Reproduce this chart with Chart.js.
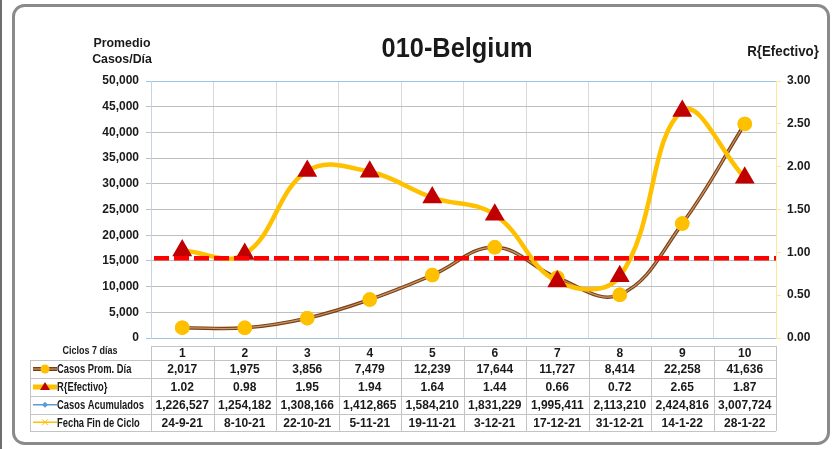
<!DOCTYPE html>
<html>
<head>
<meta charset="utf-8">
<script src="https://cdn.jsdelivr.net/npm/chart.js@4"></script>
<style>
  body { margin: 0; background: #fff; }
  canvas { display: block; }
</style>
</head>
<body>
<canvas id="chart" width="832" height="449"></canvas>
<script>

// Data
var ciclos = ['1', '2', '3', '4', '5', '6', '7', '8', '9', '10'];
var casosProm = [2017, 1975, 3856, 7479, 12239, 17644, 11727, 8414, 22258, 41636];
var rEfectivo = [1.02, 0.98, 1.95, 1.94, 1.64, 1.44, 0.66, 0.72, 2.65, 1.87];
var casosAcum = [1226527, 1254182, 1308166, 1412865, 1584210, 1831229, 1995411, 2113210, 2424816, 3007724];
var fechaFin = ['24-9-21', '8-10-21', '22-10-21', '5-11-21', '19-11-21', '3-12-21', '17-12-21', '31-12-21', '14-1-22', '28-1-22'];
var rowLabels = ['Casos Prom. Día', 'R{Efectivo}', 'Casos Acumulados', 'Fecha Fin de Ciclo'];
var umbralR = 0.93; // red dashed reference line, on the R axis

var FONT = '"Liberation Sans", Arial, sans-serif';
var TXT = '#1a1a1a';

function fmt(n) {
  return n.toLocaleString('en-US');
}

// Text squeezed horizontally (no narrow font installed)
function fillNarrow(ctx, text, x, y, sx) {
  ctx.save();
  ctx.translate(x, y);
  ctx.scale(sx, 1);
  ctx.fillText(text, 0, 0);
  ctx.restore();
}

// Frame, dashed line, titles and the data table
var decor = {
  id: 'decor',
  beforeDraw: function (chart) {
    var ctx = chart.ctx;
    ctx.save();
    ctx.fillStyle = '#fff';
    ctx.fillRect(0, 0, chart.width, chart.height);
    // left edge of the neighbouring frame
    ctx.fillStyle = '#6e6e6e';
    ctx.fillRect(0, 0, 2, chart.height);
    // rounded frame
    ctx.strokeStyle = '#8a8a8a';
    ctx.lineWidth = 3;
    ctx.beginPath();
    ctx.roundRect(13.5, 5.5, 815, 438, 11);
    ctx.stroke();
    ctx.restore();
  },
  afterDatasetDraw: function (chart, args) {
    // lighter core on the brown line, like the Excel style
    if (args.index !== 1) return;
    var ctx = chart.ctx, meta = args.meta;
    ctx.save();
    ctx.strokeStyle = '#c9976b';
    ctx.lineWidth = 1.2;
    ctx.beginPath();
    meta.dataset.path(ctx);
    ctx.stroke();
    ctx.restore();
    meta.data.forEach(function (p) { p.draw(ctx, chart.chartArea); });
  },
  afterDatasetsDraw: function (chart) {
    var ctx = chart.ctx, a = chart.chartArea;
    var y = chart.scales.yR.getPixelForValue(umbralR);
    ctx.save();
    ctx.strokeStyle = '#ff0000';
    ctx.lineWidth = 4.5;
    ctx.setLineDash([15, 5]);
    ctx.beginPath();
    ctx.moveTo(a.left + 3, y);
    ctx.lineTo(a.right, y);
    ctx.stroke();
    ctx.restore();
  },
  afterDraw: function (chart) {
    var ctx = chart.ctx, a = chart.chartArea, xs = chart.scales.x;
    ctx.save();
    ctx.fillStyle = TXT;
    ctx.textBaseline = 'middle';

    // titles
    ctx.textAlign = 'center';
    ctx.font = 'bold 27px ' + FONT;
    fillNarrow(ctx, '010-Belgium', 457, 50, 0.94);
    ctx.font = 'bold 13px ' + FONT;
    fillNarrow(ctx, 'Promedio', 122, 43, 0.95);
    fillNarrow(ctx, 'Casos/Día', 122, 59, 0.95);
    ctx.font = 'bold 14px ' + FONT;
    fillNarrow(ctx, 'R{Efectivo}', 783, 52, 0.95);

    // table
    var rows = [346, 360, 378, 396, 413.5, 431];
    var colW = xs.getPixelForValue(1) - xs.getPixelForValue(0);
    var x0 = 30, x1 = a.left, x2 = a.right;
    ctx.strokeStyle = '#c4c4c4';
    ctx.lineWidth = 1;
    ctx.beginPath();
    ctx.moveTo(x1, rows[0] + 0.5); ctx.lineTo(x2, rows[0] + 0.5);
    for (var r = 1; r < rows.length; r++) {
      var yy = Math.round(rows[r]) + 0.5;
      ctx.moveTo(x0, yy); ctx.lineTo(x2, yy);
    }
    ctx.moveTo(x0 + 0.5, rows[1]); ctx.lineTo(x0 + 0.5, rows[5]);
    for (var c = 0; c <= ciclos.length; c++) {
      var xx = Math.round(x1 + c * colW) + 0.5;
      ctx.moveTo(xx, rows[0]); ctx.lineTo(xx, rows[5]);
    }
    ctx.stroke();

    ctx.font = 'bold 11px ' + FONT;
    fillNarrow(ctx, 'Ciclos 7 días', 90, 351, 0.82);

    var body = [
      ciclos,
      casosProm.map(fmt),
      rEfectivo.map(function (v) { return v.toFixed(2); }),
      casosAcum.map(fmt),
      fechaFin
    ];
    ctx.font = 'bold 12px ' + FONT;
    body.forEach(function (vals, r) {
      var cy = (rows[r] + rows[r + 1]) / 2 + 1;
      vals.forEach(function (v, i) {
        ctx.fillText(v, xs.getPixelForValue(i), cy);
      });
    });

    // row labels with legend keys
    ctx.textAlign = 'left';
    rowLabels.forEach(function (t, i) {
      var cy = (rows[i + 1] + rows[i + 2]) / 2 + 1;
      var ky = cy - 1;
      ctx.lineCap = 'butt';
      if (i === 0) {
        ctx.strokeStyle = '#7b3f12'; ctx.lineWidth = 4;
        ctx.beginPath(); ctx.moveTo(33, ky); ctx.lineTo(57, ky); ctx.stroke();
        ctx.strokeStyle = '#c9976b'; ctx.lineWidth = 1.2;
        ctx.beginPath(); ctx.moveTo(33, ky); ctx.lineTo(57, ky); ctx.stroke();
        ctx.fillStyle = '#ffc000';
        ctx.beginPath(); ctx.arc(45, ky, 4.5, 0, Math.PI * 2); ctx.fill();
      } else if (i === 1) {
        ctx.strokeStyle = '#ffc000'; ctx.lineWidth = 5;
        ctx.beginPath(); ctx.moveTo(33, ky); ctx.lineTo(57, ky); ctx.stroke();
        ctx.fillStyle = '#c00000';
        ctx.beginPath(); ctx.moveTo(45, ky - 5); ctx.lineTo(50, ky + 3); ctx.lineTo(40, ky + 3); ctx.closePath(); ctx.fill();
      } else if (i === 2) {
        ctx.strokeStyle = '#5b9bd5'; ctx.lineWidth = 1.5;
        ctx.beginPath(); ctx.moveTo(33, ky); ctx.lineTo(57, ky); ctx.stroke();
        ctx.fillStyle = '#5b9bd5';
        ctx.beginPath(); ctx.moveTo(45, ky - 3); ctx.lineTo(48, ky); ctx.lineTo(45, ky + 3); ctx.lineTo(42, ky); ctx.closePath(); ctx.fill();
      } else {
        ctx.strokeStyle = '#ffc000'; ctx.lineWidth = 1.5;
        ctx.beginPath(); ctx.moveTo(33, ky); ctx.lineTo(57, ky); ctx.stroke();
        ctx.lineWidth = 1;
        ctx.beginPath(); ctx.moveTo(42, ky - 3); ctx.lineTo(48, ky + 3); ctx.moveTo(48, ky - 3); ctx.lineTo(42, ky + 3); ctx.stroke();
      }
      ctx.fillStyle = TXT;
      ctx.font = 'bold 12px ' + FONT;
      fillNarrow(ctx, t, 57, cy, 0.78);
    });
    ctx.restore();
  }
};

new Chart(document.getElementById('chart').getContext('2d'), {
  type: 'line',
  data: {
    labels: ciclos,
    datasets: [
      {
        label: 'R{Efectivo}',
        data: rEfectivo,
        yAxisID: 'yR',
        borderColor: '#ffc000',
        borderWidth: 4.5,
        tension: 0.4,
        pointStyle: 'triangle',
        pointRadius: 7,
        pointBackgroundColor: '#c00000',
        pointBorderColor: '#c00000',
        order: 1
      },
      {
        label: 'Casos Prom. Día',
        data: casosProm,
        yAxisID: 'y',
        borderColor: '#7b3f12',
        borderWidth: 3.5,
        tension: 0.4,
        pointStyle: 'circle',
        pointRadius: 5.5,
        pointBackgroundColor: '#ffc000',
        pointBorderColor: '#ffc000',
        order: 2
      }
    ]
  },
  options: {
    responsive: false,
    animation: false,
    devicePixelRatio: 1,
    layout: { padding: { left: 10, right: 10, top: 81, bottom: 111 } },
    plugins: {
      legend: { display: false },
      tooltip: { enabled: false },
      title: { display: false }
    },
    scales: {
      x: {
        offset: true,
        grid: { offset: true, color: '#d9d9d9', drawTicks: false },
        border: { display: false },
        ticks: { display: false },
        afterFit: function (s) { s.height = 0; }
      },
      y: {
        position: 'left',
        min: 0,
        max: 50000,
        ticks: {
          stepSize: 5000,
          padding: 7,
          color: TXT,
          font: { family: FONT, size: 12, weight: 'bold' },
          callback: function (v) { return fmt(v); }
        },
        grid: {
          tickLength: 5,
          color: function (c) {
            return (c.tick && (c.tick.value === 50000 || c.tick.value === 0)) ? '#9dc3e6' : '#bfbfbf';
          }
        },
        border: { color: '#c9d3df' },
        afterFit: function (s) { s.width = 141; }
      },
      yR: {
        position: 'right',
        min: 0,
        max: 3,
        ticks: {
          stepSize: 0.5,
          padding: 6,
          color: TXT,
          font: { family: FONT, size: 12, weight: 'bold' },
          callback: function (v) { return v.toFixed(2); }
        },
        grid: { drawOnChartArea: false, tickLength: 5, color: '#ffe699' },
        border: { color: '#ffe699' },
        afterFit: function (s) { s.width = 46; }
      }
    }
  },
  plugins: [decor]
});
</script>
</body>
</html>
